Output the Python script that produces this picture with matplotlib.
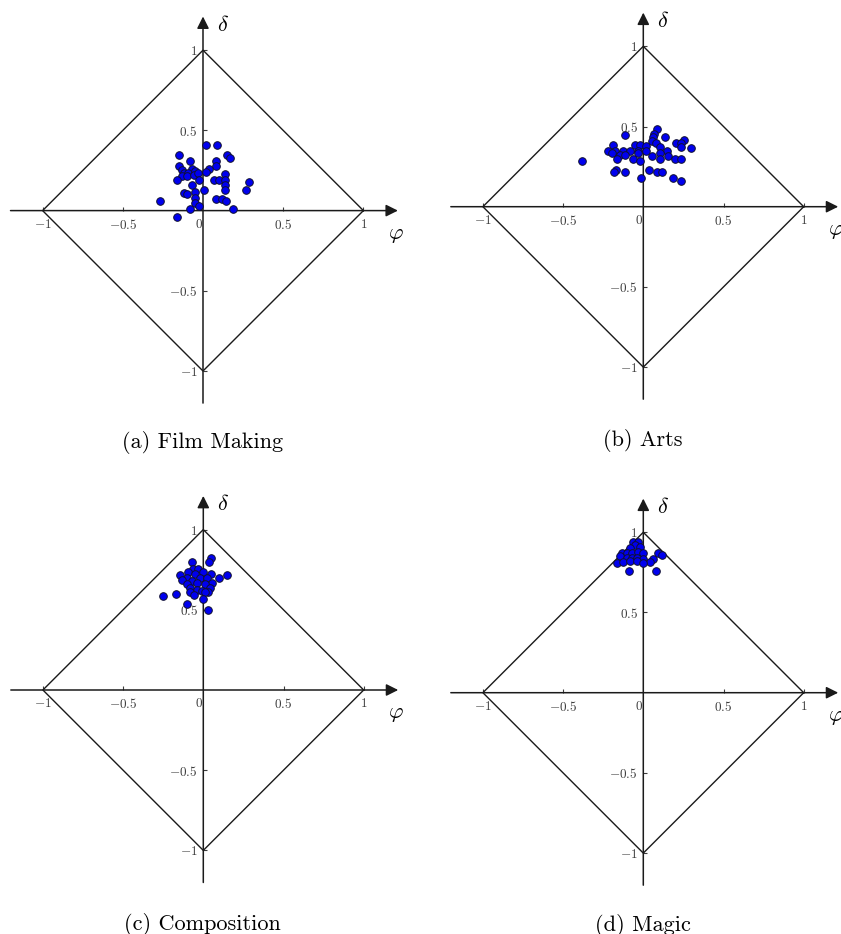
import matplotlib
matplotlib.use("Agg")
import matplotlib.pyplot as plt

plt.rcParams["mathtext.fontset"] = "cm"

# ---- data: (phi, delta) per domain ----
film_phi = [0.020, 0.087, -0.147, 0.152, 0.166, -0.079, 0.083, -0.150, 0.083, -0.131,
            -0.069, 0.035, -0.120, -0.091, -0.048, 0.017, -0.131, -0.100, -0.058, -0.031,
            0.135, -0.164, -0.027, 0.066, 0.098, 0.135, -0.066, 0.135, 0.289, -0.116,
            -0.100, -0.048, 0.004, 0.135, 0.270, -0.266, -0.048, 0.083, 0.118, 0.143,
            -0.048, -0.027, -0.079, 0.187, -0.164]
film_delta = [0.410, 0.410, 0.345, 0.345, 0.328, 0.307, 0.311, 0.276, 0.276, 0.255,
              0.262, 0.260, 0.235, 0.235, 0.249, 0.241, 0.214, 0.214, 0.220, 0.235,
              0.228, 0.193, 0.193, 0.193, 0.193, 0.193, 0.162, 0.162, 0.179, 0.110,
              0.104, 0.114, 0.127, 0.127, 0.127, 0.062, 0.079, 0.075, 0.075, 0.062,
              0.048, 0.027, 0.012, 0.012, -0.042]

arts_phi = [0.083, 0.068, -0.114, 0.058, 0.135, 0.052, 0.079, 0.203, 0.253, 0.232,
            -0.186, -0.052, -0.021, 0.017, 0.104, 0.232, 0.300, -0.217, -0.176, -0.124,
            -0.083, -0.035, 0.017, 0.149, -0.197, -0.145, -0.114, -0.031, 0.052, 0.104,
            0.155, -0.166, -0.066, -0.021, 0.104, 0.197, 0.232, -0.383, -0.170, -0.180,
            -0.114, 0.037, 0.083, 0.114, -0.017, 0.186, 0.232]
arts_delta = [0.483, 0.456, 0.448, 0.436, 0.436, 0.412, 0.395, 0.397, 0.415, 0.395,
              0.384, 0.384, 0.384, 0.380, 0.374, 0.370, 0.366, 0.349, 0.349, 0.349,
              0.349, 0.349, 0.349, 0.349, 0.332, 0.322, 0.322, 0.332, 0.318, 0.332,
              0.318, 0.297, 0.297, 0.283, 0.297, 0.297, 0.297, 0.283, 0.229, 0.215,
              0.215, 0.231, 0.215, 0.215, 0.179, 0.179, 0.163]

comp_phi = [0.048, 0.035, -0.072, -0.062, -0.031, -0.093, 0.000, -0.145, -0.052, 0.046,
            0.149, -0.104, -0.021, 0.021, 0.099, -0.135, -0.072, -0.037, 0.052, -0.104,
            0.010, -0.083, 0.041, -0.041, -0.083, -0.010, 0.031, -0.059, 0.010, -0.170,
            -0.253, -0.004, -0.104, 0.031]
comp_delta = [0.826, 0.801, 0.801, 0.753, 0.753, 0.733, 0.733, 0.718, 0.722, 0.722,
              0.718, 0.700, 0.700, 0.697, 0.700, 0.684, 0.680, 0.669, 0.669, 0.659,
              0.659, 0.638, 0.638, 0.622, 0.608, 0.618, 0.614, 0.593, 0.608, 0.601,
              0.587, 0.566, 0.535, 0.498]

magic_phi = [-0.067, -0.035, -0.052, -0.083, -0.021, -0.135, -0.104, -0.069, -0.031, 0.000,
             0.094, 0.114, -0.146, -0.104, -0.073, -0.042, 0.000, 0.062, -0.166, -0.125,
             -0.083, -0.042, 0.042, -0.004, -0.089, 0.077]
magic_delta = [0.940, 0.940, 0.919, 0.904, 0.911, 0.873, 0.873, 0.873, 0.879, 0.873,
               0.873, 0.857, 0.852, 0.842, 0.842, 0.842, 0.836, 0.836, 0.811, 0.815,
               0.821, 0.821, 0.815, 0.807, 0.759, 0.759]

captions = ["(a) Film Making", "(b) Arts", "(c) Composition", "(d) Magic"]

# bounding diamond |phi| + |delta| = 1
diamond_phi = [1, 0, -1, 0, 1]
diamond_delta = [0, 1, 0, -1, 0]

x_ticks = [-1, -0.5, 0.5, 1]
x_tick_labels = [r"$-1$", r"$-0.5$", r"$0.5$", r"$1$"]
y_ticks = [-1, -0.5, 0.5, 1]
y_tick_labels = [r"$-1$", r"$-0.5$", r"$0.5$", r"$1$"]

# ---- layout (figure pixels) ----
W, H = 841, 934
fig = plt.figure(figsize=(W / 100, H / 100), dpi=100, facecolor="white")

SCALE = 160.4          # pixels per data unit
HALF = 1.3             # half-extent of every axes in data units
origins = [(203.0, 210.6), (643.3, 206.7), (203.3, 690.0), (643.3, 692.7)]
caption_pos = [(202.5, 448.5), (643.0, 446.0), (202.5, 930.0), (643.0, 931.0)]

series = [(film_phi, film_delta), (arts_phi, arts_delta),
          (comp_phi, comp_delta), (magic_phi, magic_delta)]

tick_color = "#3c3c3c"
line_color = "#1a1a1a"

for (cx, cy), (phi, delta), cap, (tx, ty) in zip(origins, series, captions, caption_pos):
    half_px = HALF * SCALE
    rect = [(cx - half_px) / W, 1 - (cy + half_px) / H, 2 * half_px / W, 2 * half_px / H]
    ax = fig.add_axes(rect)
    ax.set_xlim(-HALF, HALF)
    ax.set_ylim(-HALF, HALF)
    ax.patch.set_visible(False)

    # spines through the origin; the visible axis lines are drawn as arrows
    for side in ("top", "right"):
        ax.spines[side].set_visible(False)
    ax.spines["left"].set_position(("data", 0))
    ax.spines["bottom"].set_position(("data", 0))
    ax.spines["left"].set_color("none")
    ax.spines["bottom"].set_color("none")

    ax.set_xticks(x_ticks, labels=x_tick_labels)
    ax.set_yticks(y_ticks, labels=y_tick_labels)
    ax.tick_params(axis="both", direction="in", length=3, width=0.8,
                   color=tick_color, labelcolor=tick_color, labelsize=9.5)
    ax.tick_params(axis="x", pad=5)
    ax.tick_params(axis="y", pad=4)
    ax.annotate(r"$0$", xy=(0, 0), xytext=(-3, -5), textcoords="offset points",
                ha="center", va="top", fontsize=9.5, color=tick_color)

    arrow = dict(arrowstyle="-|>", color=line_color, lw=1.1,
                 mutation_scale=18, shrinkA=0, shrinkB=0)
    ax.annotate("", xy=(1.215, 0), xytext=(-1.2, 0), arrowprops=arrow,
                annotation_clip=False)
    ax.annotate("", xy=(0, 1.21), xytext=(0, -1.2), arrowprops=arrow,
                annotation_clip=False)

    ax.plot(diamond_phi, diamond_delta, color=line_color, lw=1.0, zorder=2)

    ax.scatter(phi, delta, s=30, facecolor="#0000ee", edgecolor="#101030",
               linewidths=0.7, zorder=3)

    ax.text(0.125, 1.16, r"$\delta$", fontsize=16, ha="center", va="center")
    ax.text(1.2, -0.15, r"$\varphi$", fontsize=16, ha="center", va="center",
            clip_on=False)

    fig.text(tx / W, 1 - ty / H, cap, ha="center", va="baseline",
             fontsize=16, family="cmr10")

fig.savefig("out.png", dpi=100, facecolor="white")
